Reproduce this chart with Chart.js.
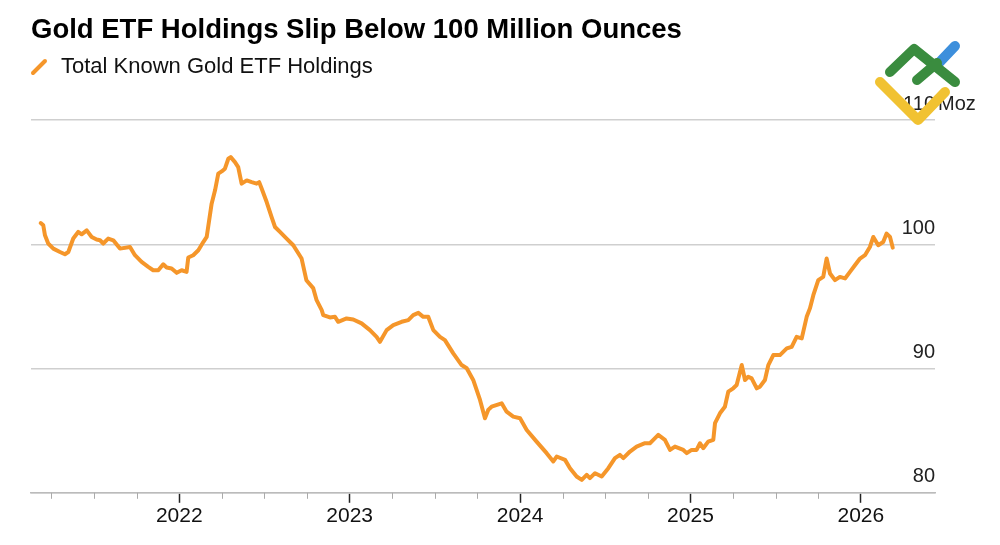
<!DOCTYPE html>
<html>
<head>
<meta charset="utf-8">
<script src="https://cdn.jsdelivr.net/npm/chart.js@4.4.1/dist/chart.umd.min.js"></script>
<style>
  html, body { margin: 0; background: #fff; }
  #wrap { width: 1000px; height: 545px; }
</style>
</head>
<body>
<div id="wrap"><canvas id="etfChart"></canvas></div>
<script>
// time as decimal years, holdings in million ounces
const dates = [
  2021.187, 2021.202, 2021.212, 2021.231, 2021.261, 2021.300, 2021.329, 2021.349, 2021.378, 2021.407,
  2021.427, 2021.457, 2021.486, 2021.515, 2021.535, 2021.554, 2021.583, 2021.613, 2021.652, 2021.711,
  2021.740, 2021.779, 2021.818, 2021.847, 2021.877, 2021.906, 2021.926, 2021.955, 2021.985, 2022.014,
  2022.043, 2022.053, 2022.082, 2022.112, 2022.141, 2022.161, 2022.190, 2022.210, 2022.229, 2022.249,
  2022.268, 2022.288, 2022.302, 2022.327, 2022.346, 2022.366, 2022.396, 2022.425, 2022.454, 2022.469,
  2022.484, 2022.513, 2022.542, 2022.562, 2022.591, 2022.630, 2022.669, 2022.718, 2022.746, 2022.786,
  2022.806, 2022.836, 2022.845, 2022.884, 2022.914, 2022.933, 2022.982, 2023.021, 2023.070, 2023.119,
  2023.158, 2023.178, 2023.217, 2023.256, 2023.305, 2023.344, 2023.373, 2023.403, 2023.432, 2023.461,
  2023.491, 2023.530, 2023.559, 2023.608, 2023.657, 2023.687, 2023.725, 2023.765, 2023.794, 2023.813,
  2023.833, 2023.892, 2023.921, 2023.960, 2024.000, 2024.039, 2024.097, 2024.156, 2024.195, 2024.215,
  2024.264, 2024.293, 2024.332, 2024.362, 2024.391, 2024.410, 2024.440, 2024.479, 2024.518, 2024.557,
  2024.586, 2024.606, 2024.645, 2024.684, 2024.733, 2024.762, 2024.782, 2024.811, 2024.850, 2024.880,
  2024.909, 2024.958, 2024.978, 2025.007, 2025.036, 2025.056, 2025.075, 2025.104, 2025.134, 2025.144,
  2025.173, 2025.202, 2025.222, 2025.251, 2025.271, 2025.301, 2025.320, 2025.339, 2025.359, 2025.389,
  2025.408, 2025.437, 2025.457, 2025.486, 2025.525, 2025.565, 2025.594, 2025.623, 2025.653, 2025.682,
  2025.701, 2025.721, 2025.750, 2025.779, 2025.799, 2025.819, 2025.848, 2025.877, 2025.907, 2025.936,
  2025.965, 2025.995, 2026.024, 2026.053, 2026.073, 2026.102, 2026.131, 2026.151, 2026.171, 2026.187
];
const holdings = [
  101.71, 101.53, 100.72, 100.06, 99.65, 99.38, 99.20, 99.38, 100.46, 100.99,
  100.80, 101.12, 100.59, 100.38, 100.32, 100.06, 100.46, 100.32, 99.65, 99.78,
  99.12, 98.58, 98.18, 97.91, 97.91, 98.39, 98.13, 98.05, 97.70, 97.91,
  97.78, 98.93, 99.12, 99.52, 100.18, 100.59, 103.27, 104.34, 105.68, 105.86,
  106.08, 106.88, 107.01, 106.61, 106.21, 104.88, 105.14, 105.00, 104.88, 105.00,
  104.47, 103.40, 102.19, 101.39, 100.99, 100.46, 99.92, 98.85, 97.11, 96.47,
  95.50, 94.70, 94.30, 94.11, 94.16, 93.76, 94.03, 93.95, 93.63, 93.09,
  92.55, 92.15, 93.09, 93.49, 93.76, 93.90, 94.30, 94.48, 94.16, 94.16,
  93.09, 92.55, 92.29, 91.22, 90.28, 90.02, 89.08, 87.47, 86.00, 86.67,
  86.93, 87.20, 86.53, 86.13, 86.00, 85.06, 84.12, 83.19, 82.52, 82.92,
  82.65, 81.98, 81.31, 81.04, 81.45, 81.18, 81.58, 81.31, 81.98, 82.79,
  83.05, 82.79, 83.32, 83.72, 83.99, 83.99, 84.26, 84.66, 84.26, 83.45,
  83.72, 83.45, 83.19, 83.45, 83.45, 83.99, 83.59, 84.12, 84.26, 85.60,
  86.40, 86.93, 88.14, 88.41, 88.67, 90.28, 89.08, 89.34, 89.21, 88.41,
  88.54, 89.08, 90.28, 91.08, 91.08, 91.62, 91.75, 92.55, 92.43, 94.16,
  94.84, 95.90, 97.11, 97.37, 98.85, 97.65, 97.11, 97.37, 97.25, 97.78,
  98.31, 98.85, 99.12, 99.78, 100.59, 99.92, 100.18, 100.86, 100.59, 99.73
];
const yTicks = [80, 90, 100, 110];
const quarterTicks = [
  2021.25, 2021.5, 2021.75, 2022, 2022.25, 2022.5, 2022.75, 2023, 2023.25, 2023.5, 2023.75,
  2024, 2024.25, 2024.5, 2024.75, 2025, 2025.25, 2025.5, 2025.75, 2026
];

const ORANGE = '#f5962a';
const FONT = "'Liberation Sans', Arial, Helvetica, sans-serif";
Chart.defaults.font.family = FONT;

// header, minor ticks, unit and the watermark logo
const decorations = {
  id: 'decorations',
  afterDraw(chart) {
    const ctx = chart.ctx;
    const x = chart.scales.x;
    const y = chart.scales.y;
    const area = chart.chartArea;
    ctx.save();

    ctx.fillStyle = '#000';
    ctx.textBaseline = 'alphabetic';
    ctx.font = 'bold 27.5px ' + FONT;
    ctx.fillText('Gold ETF Holdings Slip Below 100 Million Ounces', 31, 38);

    ctx.strokeStyle = ORANGE;
    ctx.lineWidth = 4;
    ctx.lineCap = 'round';
    ctx.beginPath();
    ctx.moveTo(33, 73);
    ctx.lineTo(45, 61);
    ctx.stroke();
    ctx.fillStyle = '#111';
    ctx.font = '22px ' + FONT;
    ctx.fillText('Total Known Gold ETF Holdings', 61, 73);

    // minor quarter ticks
    ctx.strokeStyle = '#aaa';
    ctx.lineWidth = 1;
    ctx.lineCap = 'butt';
    quarterTicks.filter(v => !Number.isInteger(v)).forEach(v => {
      const px = Math.round(x.getPixelForValue(v)) + 0.5;
      ctx.beginPath();
      ctx.moveTo(px, area.bottom);
      ctx.lineTo(px, area.bottom + 6);
      ctx.stroke();
    });

    // unit after the top label
    ctx.fillStyle = '#222';
    ctx.font = '20px ' + FONT;
    ctx.textBaseline = 'middle';
    ctx.fillText('Moz', area.right + 3, y.getPixelForValue(110) - 16);

    // watermark logo
    ctx.lineCap = 'round';
    ctx.lineJoin = 'round';
    ctx.lineWidth = 10;
    ctx.strokeStyle = '#3d8fdc';
    ctx.beginPath();
    ctx.moveTo(936, 66);
    ctx.lineTo(955, 46);
    ctx.stroke();
    ctx.strokeStyle = '#3a8c3f';
    ctx.beginPath();
    ctx.moveTo(890, 72);
    ctx.lineTo(914, 49);
    ctx.lineTo(955, 82);
    ctx.stroke();
    ctx.beginPath();
    ctx.moveTo(917, 80);
    ctx.lineTo(937, 63);
    ctx.stroke();
    ctx.strokeStyle = '#f1c232';
    ctx.beginPath();
    ctx.moveTo(880, 82);
    ctx.lineTo(918, 120);
    ctx.lineTo(945, 92);
    ctx.stroke();
    ctx.restore();
  }
};

new Chart(document.getElementById('etfChart'), {
  type: 'line',
  data: {
    datasets: [{
      label: 'Total Known Gold ETF Holdings',
      data: dates.map((d, i) => ({ x: d, y: holdings[i] })),
      borderColor: ORANGE,
      borderWidth: 4,
      borderJoinStyle: 'round',
      borderCapStyle: 'round',
      pointRadius: 0,
      tension: 0,
    }]
  },
  options: {
    responsive: true,
    maintainAspectRatio: false,
    animation: false,
    layout: { padding: { left: 31, right: 65, top: 120, bottom: 15 } },
    scales: {
      x: {
        type: 'linear',
        min: 2021.13,
        max: 2026.435,
        afterBuildTicks: scale => { scale.ticks = quarterTicks.map(v => ({ value: v })); },
        ticks: {
          autoSkip: false,
          maxRotation: 0,
          padding: 1,
          color: '#111',
          font: { size: 21 },
          callback: v => Number.isInteger(v) ? String(v) : '',
        },
        grid: {
          drawOnChartArea: false,
          tickLength: 10,
          tickWidth: 1.5,
          tickColor: c => Number.isInteger(c.tick.value) ? '#222' : 'rgba(0,0,0,0)',
        },
        border: { color: '#bbb', width: 1.5 },
      },
      y: {
        position: 'right',
        min: 80,
        max: 110,
        afterBuildTicks: scale => { scale.ticks = yTicks.map(v => ({ value: v })); },
        ticks: {
          mirror: true,
          padding: 0,
          labelOffset: -16,
          color: '#222',
          font: { size: 20 },
        },
        grid: { color: '#cfcfcf', lineWidth: 1.5, drawTicks: false },
        border: { display: false },
      },
    },
    plugins: {
      legend: { display: false },
      title: { display: false },
      tooltip: { enabled: false },
    },
  },
  plugins: [decorations],
});
</script>
</body>
</html>
